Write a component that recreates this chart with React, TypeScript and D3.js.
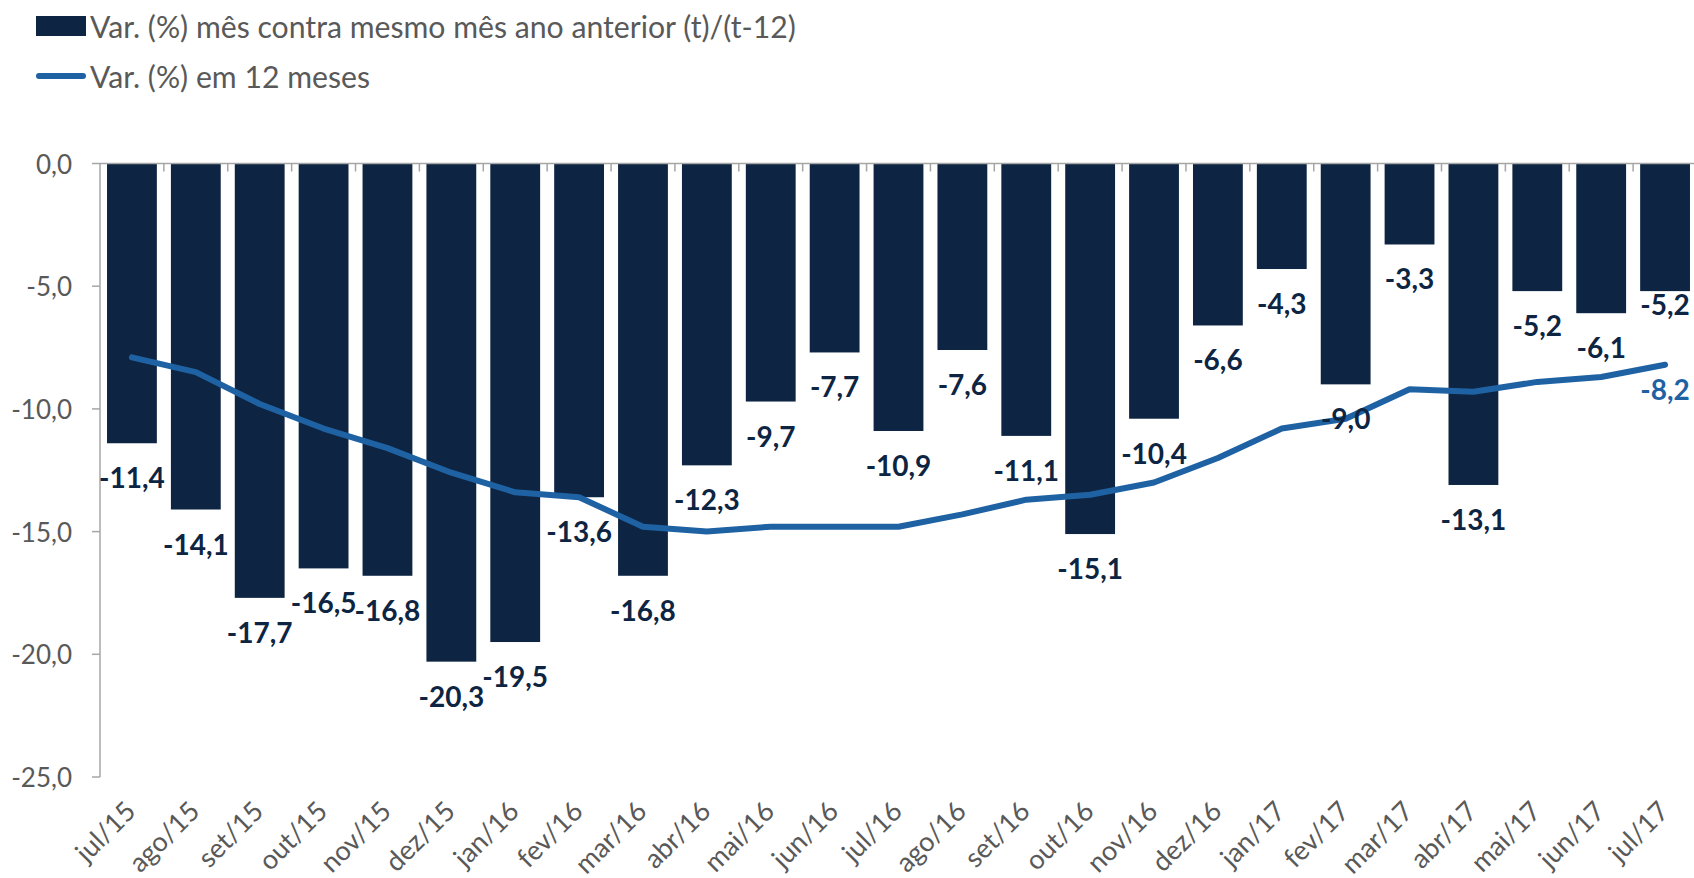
import React from "react";
import * as d3 from "d3";

const categories = ["jul/15","ago/15","set/15","out/15","nov/15","dez/15","jan/16","fev/16","mar/16","abr/16","mai/16","jun/16","jul/16","ago/16","set/16","out/16","nov/16","dez/16","jan/17","fev/17","mar/17","abr/17","mai/17","jun/17","jul/17"];
const monthlyValues = [-11.4,-14.1,-17.7,-16.5,-16.8,-20.3,-19.5,-13.6,-16.8,-12.3,-9.7,-7.7,-10.9,-7.6,-11.1,-15.1,-10.4,-6.6,-4.3,-9.0,-3.3,-13.1,-5.2,-6.1,-5.2];
const twelveMonthValues = [-7.9,-8.5,-9.8,-10.8,-11.6,-12.6,-13.4,-13.6,-14.8,-15.0,-14.8,-14.8,-14.8,-14.3,-13.7,-13.5,-13.0,-12.0,-10.8,-10.4,-9.2,-9.3,-8.9,-8.7,-8.2];
const yTicks = [0,-5,-10,-15,-20,-25];
const legendLabels = ["Var. (%) mês contra mesmo mês ano anterior (t)/(t-12)","Var. (%) em 12 meses"];

const W = 1694, H = 878;
const BAR = "#0D2542";
const LINE = "#1F62A3";
const GRAY = "#595959";
const AXIS = "#A6A6A6";
const FONT = "Lato, 'Open Sans', sans-serif";

const fmt = (v: number) => v.toFixed(1).replace(".", ",");

export default function App() {
  const x = d3.scaleBand<string>().domain(categories).range([100, 1697]).paddingInner(0.22).paddingOuter(0.11);
  const y = d3.scaleLinear().domain([-25, 0]).range([777, 163.5]);
  const step = x.step();
  const cx = (c: string) => (x(c) as number) + x.bandwidth() / 2;
  const line = d3.line<number>().x((_, i) => cx(categories[i])).y(d => y(d)).curve(d3.curveLinear);

  return (
    <svg width={W} height={H} style={{ position: "absolute", left: 0, top: 0, background: "#fff" }} fontFamily={FONT}>
      {/* legend */}
      <rect x={36} y={16} width={50} height={20} fill={BAR} />
      <text x={90} y={26} dominantBaseline="central" fontSize={30.2} fill={GRAY}>{legendLabels[0]}</text>
      <line x1={39} x2={83} y1={76} y2={76} stroke={LINE} strokeWidth={6} strokeLinecap="round" />
      <text x={90} y={76} dominantBaseline="central" fontSize={30.2} fill={GRAY}>{legendLabels[1]}</text>

      {/* y axis */}
      <line x1={100} x2={100} y1={y(0)} y2={y(-25)} stroke={AXIS} strokeWidth={1.5} />
      {yTicks.map(t => (
        <g key={t}>
          <line x1={92} x2={100} y1={y(t)} y2={y(t)} stroke={AXIS} strokeWidth={1.5} />
          <text x={72} y={y(t)} textAnchor="end" dominantBaseline="central" fontSize={26} fill={GRAY}>{fmt(t)}</text>
        </g>
      ))}

      {/* bars */}
      {monthlyValues.map((v, i) => (
        <rect key={i} x={x(categories[i])} y={y(0)} width={x.bandwidth()} height={y(v) - y(0)} fill={BAR} />
      ))}

      {/* x axis at zero */}
      <line x1={100} x2={1694} y1={y(0)} y2={y(0)} stroke={AXIS} strokeWidth={1.5} />
      {categories.map((c, i) => i > 0 ? (
        <line key={c} x1={(x(c) as number) - (step - x.bandwidth()) / 2} x2={(x(c) as number) - (step - x.bandwidth()) / 2} y1={y(0)} y2={y(0) + 8} stroke={AXIS} strokeWidth={1.5} />
      ) : null)}

      {/* line */}
      <path d={line(twelveMonthValues) || ""} fill="none" stroke={LINE} strokeWidth={6} strokeLinejoin="round" strokeLinecap="round" />

      {/* bar labels */}
      {monthlyValues.map((v, i) => (
        <text key={i} x={cx(categories[i])} y={y(v) + (i === monthlyValues.length - 1 ? 13 : 34)} textAnchor="middle" dominantBaseline="central" fontSize={28} fontWeight="bold" fill={BAR}>{fmt(v)}</text>
      ))}
      {/* last line label */}
      <text x={cx(categories[categories.length - 1])} y={y(twelveMonthValues[twelveMonthValues.length - 1]) + 24} textAnchor="middle" dominantBaseline="central" fontSize={28} fontWeight="bold" fill={LINE}>{fmt(twelveMonthValues[twelveMonthValues.length - 1])}</text>

      {/* x labels */}
      {categories.map(c => (
        <text key={c} transform={`translate(${cx(c) + 5.4},${y(-25) + 36}) rotate(-45)`} textAnchor="end" fontSize={27} fill={GRAY}>{c}</text>
      ))}
    </svg>
  );
}
